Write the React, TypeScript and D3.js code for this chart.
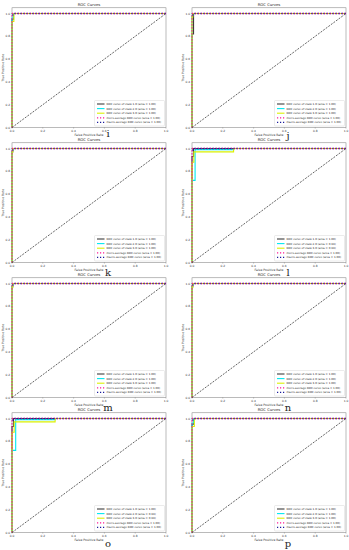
import React from 'react';
import * as d3 from 'd3';

// ---------- data ----------
const panelLabels = ['i', 'j', 'k', 'l', 'm', 'n', 'o', 'p'];
const xTicks = [0, 0.2, 0.4, 0.6, 0.8, 1.0];
const yTicks = [0, 0.2, 0.4, 0.6, 0.8, 1.0];
const classNames = ['1.0', '2.0', '3.0'];

const areasClass1 = [1.0, 1.0, 1.0, 1.0, 1.0, 1.0, 1.0, 1.0];
const areasClass2 = [1.0, 1.0, 1.0, 0.99, 1.0, 1.0, 0.99, 1.0];
const areasClass3 = [1.0, 1.0, 1.0, 0.99, 1.0, 1.0, 0.99, 1.0];
const areasMicro = [1.0, 1.0, 1.0, 1.0, 1.0, 1.0, 1.0, 1.0];
const areasMacro = [1.0, 1.0, 1.0, 1.0, 1.0, 1.0, 1.0, 1.0];

type Pt = [number, number];

const class1Curves: Pt[][] = [
  [[0, 0], [0, 0.95], [0.01, 0.95], [0.01, 1], [1, 1]],
  [[0, 0], [0, 0.82], [0.01, 0.82], [0.01, 1], [1, 1]],
  [[0, 0], [0, 0.97], [0.005, 0.97], [0.005, 1], [1, 1]],
  [[0, 0], [0, 0.93], [0.01, 0.93], [0.01, 1], [1, 1]],
  [[0, 0], [0, 0.97], [0.005, 0.97], [0.005, 1], [1, 1]],
  [[0, 0], [0, 0.97], [0.005, 0.97], [0.005, 1], [1, 1]],
  [[0, 0], [0, 0.93], [0.01, 0.93], [0.01, 1], [1, 1]],
  [[0, 0], [0, 0.95], [0.01, 0.95], [0.01, 1], [1, 1]],
];
const class2Curves: Pt[][] = [
  [[0, 0], [0, 0.96], [0.008, 0.96], [0.008, 1], [1, 1]],
  [[0, 0], [0, 0.98], [0.005, 0.98], [0.005, 1], [1, 1]],
  [[0, 0], [0, 0.98], [0.005, 0.98], [0.005, 1], [1, 1]],
  [[0, 0], [0, 0.72], [0.02, 0.72], [0.02, 0.99], [0.27, 0.99], [0.27, 1], [1, 1]],
  [[0, 0], [0, 0.98], [0.005, 0.98], [0.005, 1], [1, 1]],
  [[0, 0], [0, 0.98], [0.005, 0.98], [0.005, 1], [1, 1]],
  [[0, 0], [0, 0.72], [0.024, 0.72], [0.024, 0.99], [0.28, 0.99], [0.28, 1], [1, 1]],
  [[0, 0], [0, 0.96], [0.01, 0.96], [0.01, 1], [1, 1]],
];
const class3Curves: Pt[][] = [
  [[0, 0], [0, 0.93], [0.012, 0.93], [0.012, 1], [1, 1]],
  [[0, 0], [0, 0.97], [0.005, 0.97], [0.005, 1], [1, 1]],
  [[0, 0], [0, 0.97], [0.005, 0.97], [0.005, 1], [1, 1]],
  [[0, 0], [0, 0.88], [0.012, 0.88], [0.012, 0.97], [0.27, 0.97], [0.27, 1], [1, 1]],
  [[0, 0], [0, 0.97], [0.005, 0.97], [0.005, 1], [1, 1]],
  [[0, 0], [0, 0.97], [0.005, 0.97], [0.005, 1], [1, 1]],
  [[0, 0], [0, 0.88], [0.014, 0.88], [0.014, 0.97], [0.28, 0.97], [0.28, 1], [1, 1]],
  [[0, 0], [0, 0.93], [0.015, 0.93], [0.015, 1], [1, 1]],
];
const microCurve: Pt[] = [[0, 0], [0, 1], [1, 1]];
const macroCurve: Pt[] = [[0, 0.97], [0.01, 1], [1, 1]];
const diagonal: Pt[] = [[0, 0], [1, 1]];

// ---------- styles / layout ----------
const classColors = ['#3c3c3c', '#00e8f0', '#dcf000'];
const microColor = '#ff1493';
const macroColor = '#1a1a9c';
const colLeft = [12, 192];
const axisW = 154;
const rowBottom0 = 127.5;
const rowPitch = 135;
const unitH = 114;
const labelDy = [9.5, 11, 13, 13, 13, 13, 14.5, 14];
const font = 'DejaVu Sans, sans-serif';

function Panel({ idx }: { idx: number }) {
  const col = idx % 2;
  const row = Math.floor(idx / 2);
  const x0 = colLeft[col];
  const yb = rowBottom0 + row * rowPitch;
  const x = d3.scaleLinear().domain([0, 1]).range([x0, x0 + axisW]);
  const y = d3.scaleLinear().domain([0, 1.05]).range([yb, yb - unitH * 1.05]);
  const line = d3.line<Pt>().x((d) => x(d[0])).y((d) => y(d[1]));
  const top = y(1.05);
  const classCurves = [class1Curves[idx], class2Curves[idx], class3Curves[idx]];
  const classAreas = [areasClass1[idx], areasClass2[idx], areasClass3[idx]];

  const legendW = 70;
  const legendH = 25.5;
  const lx = x(1) - 1.5 - legendW;
  const ly = yb - 1.5 - legendH;
  const entries = [
    ...classNames.map((c, k) => ({
      text: `ROC curve of class ${c} (area = ${classAreas[k].toFixed(2)})`,
      color: classColors[k],
      kind: 'solid',
    })),
    { text: `micro-average ROC curve (area = ${areasMicro[idx].toFixed(2)})`, color: microColor, kind: 'dot' },
    { text: `macro-average ROC curve (area = ${areasMacro[idx].toFixed(2)})`, color: macroColor, kind: 'dot' },
  ];

  return (
    <g>
      <text x={(x(0) + x(1)) / 2} y={top - 2} fontSize={3.8} fontFamily={font} textAnchor="middle" fill="#222">
        ROC Curves
      </text>
      <rect x={x(0)} y={top} width={axisW} height={yb - top} fill="white" stroke="#777" strokeWidth={0.5} />
      {xTicks.map((t) => (
        <g key={'x' + t}>
          <line x1={x(t)} x2={x(t)} y1={yb} y2={yb + 1} stroke="#555" strokeWidth={0.4} />
          <text x={x(t)} y={yb + 4} fontSize={2.9} fontFamily={font} textAnchor="middle" fill="#333">
            {t.toFixed(1)}
          </text>
        </g>
      ))}
      {yTicks.map((t) => (
        <g key={'y' + t}>
          <line x1={x(0) - 1} x2={x(0)} y1={y(t)} y2={y(t)} stroke="#555" strokeWidth={0.4} />
          <text x={x(0) - 1.8} y={y(t) + 1} fontSize={2.9} fontFamily={font} textAnchor="end" fill="#333">
            {t.toFixed(1)}
          </text>
        </g>
      ))}
      <text x={(x(0) + x(1)) / 2} y={yb + 8} fontSize={3.1} fontFamily={font} textAnchor="middle" fill="#333">
        False Positive Rate
      </text>
      <text
        transform={`translate(${x(0) - 8.5},${(yb + top) / 2}) rotate(-90)`}
        fontSize={3.1}
        fontFamily={font}
        textAnchor="middle"
        fill="#333"
      >
        True Positive Rate
      </text>
      {classCurves.map((c, k) => (
        <path key={'c' + k} d={line(c) || ''} fill="none" stroke={classColors[k]} strokeWidth={1.1} />
      ))}
      <path d={line(microCurve) || ''} fill="none" stroke={microColor} strokeWidth={1.3} strokeDasharray="1.2 1.8" />
      <path
        d={line(macroCurve) || ''}
        fill="none"
        stroke={macroColor}
        strokeWidth={1.3}
        strokeDasharray="1.2 1.8"
        strokeDashoffset={-1.5}
      />
      <path d={line(diagonal) || ''} fill="none" stroke="#222" strokeWidth={0.7} strokeDasharray="2 1.2" />
      <rect x={lx} y={ly} width={legendW} height={legendH} rx={1} fill="white" fillOpacity={0.85} stroke="#ccc" strokeWidth={0.4} />
      {entries.map((e, k) => {
        const ey = ly + 3.5 + k * 4.6;
        return (
          <g key={'l' + k}>
            <line
              x1={lx + 2.5}
              x2={lx + 10}
              y1={ey}
              y2={ey}
              stroke={e.color}
              strokeWidth={e.kind === 'dot' ? 1.3 : 1.1}
              strokeDasharray={e.kind === 'dot' ? '1.2 1.8' : undefined}
            />
            <text x={lx + 12} y={ey + 1} fontSize={2.7} fontFamily={font} fill="#222">
              {e.text}
            </text>
          </g>
        );
      })}
      <text x={x(0) + 96} y={yb + labelDy[idx]} fontSize={10} fontFamily="DejaVu Serif, serif" textAnchor="middle" fill="#222">
        {panelLabels[idx]}
      </text>
    </g>
  );
}

export default function App() {
  return (
    <svg
      width={349}
      height={550}
      viewBox="0 0 349 550"
      style={{ position: 'fixed', left: 0, top: 0, background: 'white' }}
    >
      <rect x={0} y={0} width={349} height={550} fill="white" />
      {panelLabels.map((_, i) => (
        <Panel key={i} idx={i} />
      ))}
    </svg>
  );
}
